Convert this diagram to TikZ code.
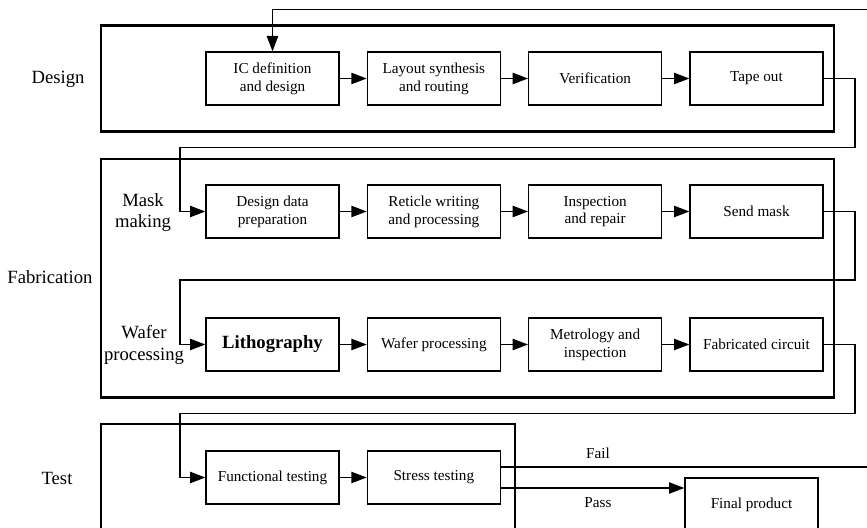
\documentclass[tikz,border=0pt]{standalone}
\usepackage{fontspec}
\setmainfont{Liberation Serif}
\usetikzlibrary{arrows.meta,positioning}

\tikzset{
  stage/.style={draw, line width=1pt, minimum width=99.75pt, minimum height=39.75pt,
    inner sep=1pt, align=center, font=\fontsize{11.4}{13.3}\selectfont},
  frame/.style={draw, line width=2.2pt},
  phase/.style={align=center, font=\fontsize{14}{16}\selectfont},
  flow/.style={line width=1pt, -{Triangle[length=11.5pt,width=8.5pt]}},
  link/.style={line width=1pt}
}

\begin{document}
\begin{tikzpicture}[x=0.75pt,y=-0.75pt, node distance=20.25pt]
\useasboundingbox (0,0) rectangle (867,528);
\clip (0,0) rectangle (867,528);

\draw[frame] (101,25.7) rectangle (834,131.5);
\draw[frame] (101,159) rectangle (834,397.5);
\draw[frame] (101,424) rectangle (515,545);

\node[phase] (design) at (58,79) {Design};
\node[phase] (fab) at (50,277) {Fabrication};
\node[phase] (test) at (57,478) {Test};
\node[phase] (mask) at (143,212.5) {Mask\\making};
\node[phase] (wafer) at (144,345) {Wafer\\processing};

\node[stage] (ic) at (272.5,78.5) {IC definition\\and design};
\node[stage, right=of ic] (layout) {Layout synthesis\\and routing};
\node[stage, right=of layout] (verif) {Verification};
\node[stage, right=of verif] (tape) {Tape out};

\node[stage] (prep) at (272.5,211.5) {Design data\\preparation};
\node[stage, right=of prep] (reticle) {Reticle writing\\and processing};
\node[stage, right=of reticle] (repair) {Inspection\\and repair};
\node[stage, right=of repair] (send) {Send mask};

\node[stage, font=\fontsize{14}{16}\selectfont\bfseries] (litho) at (272.5,344.5) {Lithography};
\node[stage, right=of litho] (wproc) {Wafer processing};
\node[stage, right=of wproc] (metro) {Metrology and\\inspection};
\node[stage, right=of metro] (circuit) {Fabricated circuit};

\node[stage] (func) at (272.5,477.5) {Functional testing};
\node[stage, right=of func] (stress) {Stress testing};
\node[stage] (final) at (751.5,504.5) {Final product};

\draw[flow] (ic) -- (layout);
\draw[flow] (layout) -- (verif);
\draw[flow] (verif) -- (tape);
\draw[flow] (prep) -- (reticle);
\draw[flow] (reticle) -- (repair);
\draw[flow] (repair) -- (send);
\draw[flow] (litho) -- (wproc);
\draw[flow] (wproc) -- (metro);
\draw[flow] (metro) -- (circuit);
\draw[flow] (func) -- (stress);

\coordinate (back) at (880,9.3);
\coordinate (turnA) at (855,147.5);
\coordinate (turnB) at (180,147.5);
\coordinate (turnC) at (855,280);
\coordinate (turnD) at (180,280);
\coordinate (turnE) at (855,413.5);
\coordinate (turnF) at (180,413.5);

\draw[flow] (back) -| (ic.north);
\draw[flow] (tape.east) -| (turnA) -- (turnB) |- (prep.west);
\draw[flow] (send.east) -| (turnC) -- (turnD) |- (litho.west);
\draw[flow] (circuit.east) -| (turnE) -- (turnF) |- (func.west);

\coordinate (failstart) at ([yshift=7.875pt]stress.east);
\coordinate (passstart) at ([yshift=-7.875pt]stress.east);
\draw[link] (failstart) -- (failstart -| back);
\draw[flow] (passstart) -- (passstart -| final.west);
\node[font=\fontsize{11.4}{13.3}\selectfont] (fail) at (598,453) {Fail};
\node[font=\fontsize{11.4}{13.3}\selectfont] (pass) at (598,503) {Pass};
\end{tikzpicture}
\end{document}
